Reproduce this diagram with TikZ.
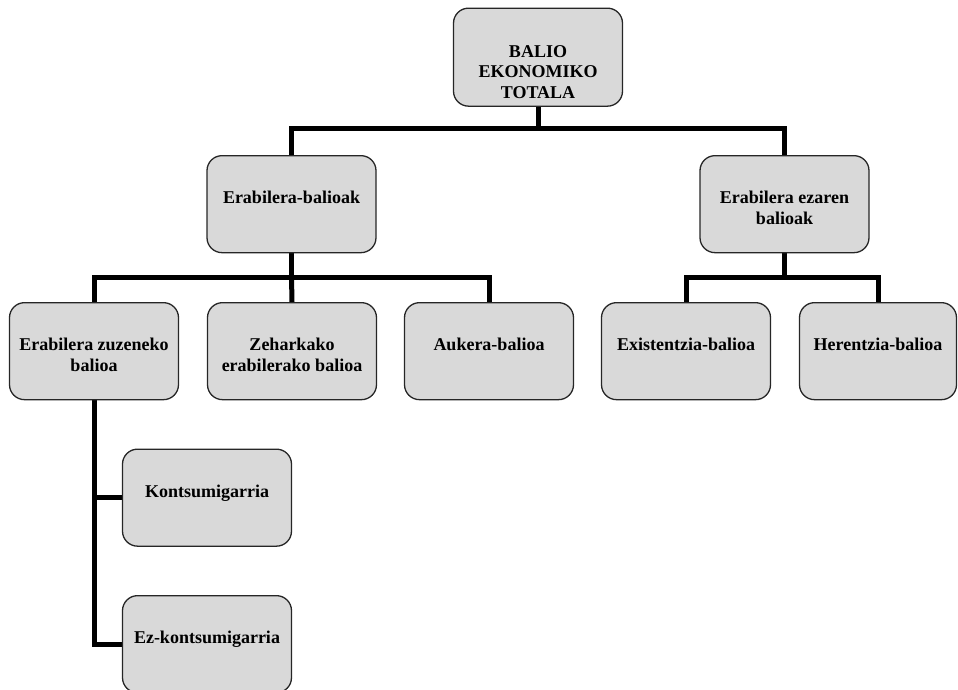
\documentclass[tikz,border=0pt]{standalone}
\usepackage{fontspec}
\setmainfont{Liberation Serif}
\usetikzlibrary{calc,backgrounds}
\tikzset{
  box/.style={draw=black!85, line width=1.3pt, fill=boxgray, rounded corners=15pt,
    inner sep=0pt, anchor=north, font=\bfseries\fontsize{18}{20.5}\selectfont},
  conn/.style={line width=5pt, black, line cap=rect},
}
\definecolor{boxgray}{HTML}{D9D9D9}
\newcommand{\btxt}[2][169]{\parbox[c][97pt][t]{#1pt}{\centering\rule{0pt}{48pt}#2}}
\begin{document}
\begin{tikzpicture}[x=1pt,y=-1pt]
\useasboundingbox (0,0) rectangle (958,689);
\node[box] (top) at (538,7.5) {\parbox[c][98pt][t]{169pt}{\centering\rule{0pt}{49pt}BALIO\\EKONOMIKO\\TOTALA}};
\node[box] (A) at (291.5,155) {\btxt{Erabilera-balioak}};
\node[box] (B) at (784.5,155) {\btxt{Erabilera ezaren\\balioak}};
\node[box] (C) at (94,302) {\btxt{Erabilera zuzeneko\\balioa}};
\node[box] (D) at (292,302) {\btxt{Zeharkako\\erabilerako balioa}};
\node[box] (E) at (489,302) {\btxt{Aukera-balioa}};
\node[box] (F) at (686,302) {\btxt{Existentzia-balioa}};
\node[box] (G) at (878,302) {\btxt[157]{Herentzia-balioa}};
\node[box] (H) at (207,448.5) {\btxt{Kontsumigarria}};
\node[box] (I) at (207,595) {\btxt{Ez-kontsumigarria}};
% connectors
\begin{pgfonlayer}{background}
\coordinate (t1) at ($(top.south)+(0,21.5)$);
\draw[conn] (top.south) -- (t1);
\draw[conn] (A.north) |- (t1) -| (B.north);
\coordinate (a1) at ($(A.south)+(0,24)$);
\draw[conn] (A.south) -- (a1);
\draw[conn] (C.north) |- (a1) -| (E.north);
\draw[conn] (a1) -- (D.north);
\coordinate (b1) at ($(B.south)+(0,24)$);
\draw[conn] (B.south) -- (b1);
\draw[conn] (F.north) |- (b1) -| (G.north);
\draw[conn] (C.south) |- (I.west);
\draw[conn] (C.south |- H.west) -- (H.west);
\end{pgfonlayer}
\end{tikzpicture}
\end{document}
